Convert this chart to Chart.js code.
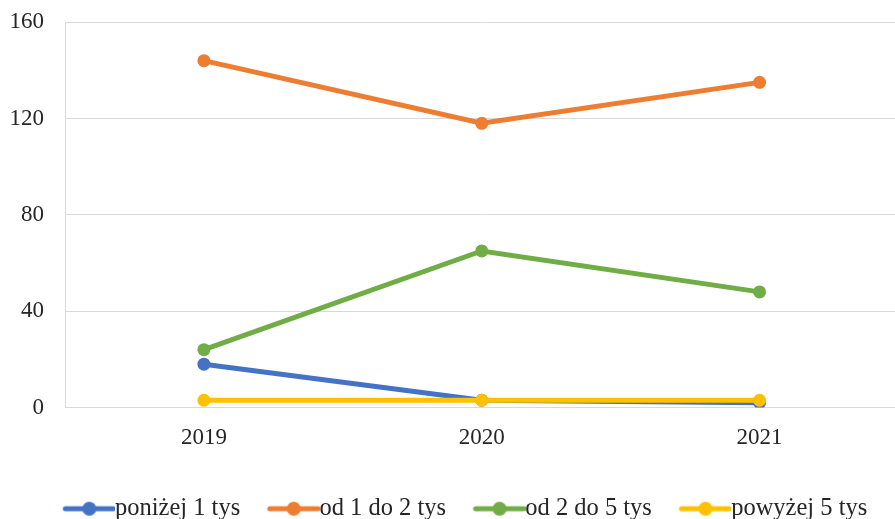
<!DOCTYPE html>
<html>
<head>
<meta charset="utf-8">
<script src="https://cdn.jsdelivr.net/npm/chart.js@4"></script>
<style>
  body { margin: 0; overflow: hidden; background: #fff; }
  #wrap { position: relative; width: 905px; height: 519px; }
</style>
</head>
<body>
<div id="wrap"><canvas id="lineChart"></canvas></div>
<script>
const years = ["2019", "2020", "2021"];
const ponizej1 = [18, 3, 2];
const od1do2 = [144, 118, 135];
const od2do5 = [24, 65, 48];
const powyzej5 = [3, 3, 3];
const yTicks = [0, 40, 80, 120, 160];

const seriesNames = ["poniżej 1 tys", "od 1 do 2 tys", "od 2 do 5 tys", "powyżej 5 tys"];
const seriesColors = ["#4472C4", "#ED7D31", "#70AD47", "#FFC000"];

const legendFontSize = 24.5;
const legendBox = 65;   // pointStyleWidth
const markerLen = 52;

// legend marker: line with a dot, placed at the right edge of the image
// so the text sits right next to it (like Excel)
function legendMarker(color) {
    const c = document.createElement('canvas');
    c.width = Math.round(legendBox + legendFontSize);
    c.height = 16;
    const g = c.getContext('2d');
    const x0 = c.width - markerLen;
    g.strokeStyle = color;
    g.lineWidth = 5;
    g.lineCap = 'round';
    g.beginPath(); g.moveTo(x0 + 2, 8); g.lineTo(c.width - 2, 8); g.stroke();
    g.fillStyle = color;
    g.beginPath(); g.arc(x0 + markerLen / 2, 8, 7, 0, Math.PI * 2); g.fill();
    return c;
}

const values = [ponizej1, od1do2, od2do5, powyzej5];
const datasets = values.map((vals, i) => ({
    label: seriesNames[i],
    data: vals,
    borderColor: seriesColors[i],
    backgroundColor: seriesColors[i],
    borderWidth: 5,
    pointRadius: 6.5,
    pointHoverRadius: 6.5,
    pointBorderWidth: 0,
    pointStyle: 'circle',
    tension: 0,
    order: 3 - i   // yellow drawn on top, like the original
}));
const icons = seriesColors.map(legendMarker);

const ctx = document.getElementById('lineChart').getContext('2d');
const chart = new Chart(ctx, {
    type: 'line',
    data: { labels: years, datasets },
    options: {
        responsive: true,
        maintainAspectRatio: false,
        animation: false,
        layout: { padding: { top: 0, left: 0, right: 0, bottom: -12 } },
        plugins: {
            tooltip: { enabled: false },
            legend: {
                position: 'bottom',
                align: 'center',
                labels: {
                    font: { family: 'Liberation Serif', size: legendFontSize },
                    color: '#262626',
                    usePointStyle: true,
                    pointStyleWidth: legendBox,
                    boxHeight: 14,
                    padding: 2,
                    generateLabels: (ch) => ch.data.datasets.map((ds, i) => ({
                        text: ds.label,
                        fillStyle: ds.borderColor,
                        strokeStyle: ds.borderColor,
                        lineWidth: 0,
                        pointStyle: icons[i],
                        fontColor: '#262626',
                        hidden: false,
                        datasetIndex: i
                    }))
                }
            }
        },
        scales: {
            x: {
                offset: true,
                grid: { display: false },
                border: { display: true, color: '#d9d9d9', width: 1 },
                afterFit: (axis) => { axis.height = 87; },
                ticks: {
                    font: { family: 'Liberation Serif', size: 23 },
                    color: '#262626',
                    padding: 9
                }
            },
            y: {
                min: 0,
                max: 160,
                afterBuildTicks: (axis) => { axis.ticks = yTicks.map(v => ({ value: v })); },
                afterFit: (axis) => { axis.width = 65; },
                grid: { color: '#d9d9d9', lineWidth: 1, drawTicks: false },
                border: { display: true, color: '#d9d9d9', width: 1 },
                ticks: {
                    // tiny lineHeight so the top label doesn't push the plot down
                    font: { family: 'Liberation Serif', size: 23, lineHeight: 0.1 },
                    color: '#262626',
                    padding: 21
                }
            }
        }
    }
});
</script>
</body>
</html>
